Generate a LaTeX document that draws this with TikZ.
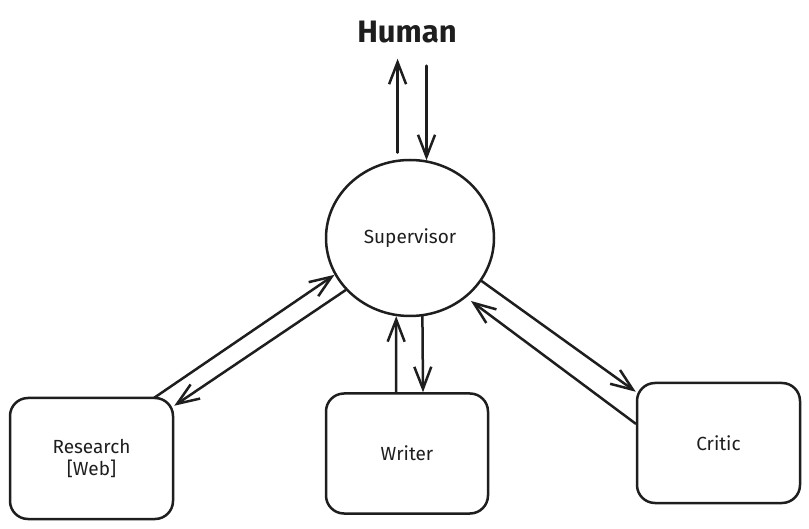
\documentclass[tikz,border=0pt]{standalone}
\usepackage{fontspec}
\setmainfont{Fira Sans}
\usetikzlibrary{arrows.meta,shapes.geometric,calc}
\definecolor{ink}{HTML}{1E1E1E}
\tikzset{
  agent/.style={draw=ink,line width=2.5pt,rounded corners=18pt,minimum width=162pt,minimum height=120pt,align=center,text=ink,font=\fontsize{19}{22}\selectfont},
  hub/.style={ellipse,draw=ink,line width=2.5pt,minimum width=168pt,minimum height=156pt,text=ink,font=\fontsize{19}{22}\selectfont},
  msg/.style={draw=ink,line width=2.5pt,line cap=round,-{Straight Barb[length=22pt,width=17pt]}}
}
\begin{document}
\begin{tikzpicture}[x=1pt,y=-1pt]
\useasboundingbox (0,0) rectangle (809,529);
\node[hub] (sup) at (410,238) {Supervisor};
\node[text=ink,inner sep=0pt,anchor=base,font=\bfseries\fontsize{31}{34}\selectfont] (human) at (407,43) {Human};

\node[agent,minimum width=163pt,minimum height=121pt] (res) at (91.5,458.5) {Research\\{[Web]}};
\node[agent] (wri) at (407,453.5) {Writer};
\node[agent,minimum width=163pt] (cri) at (718.5,443) {Critic};

\draw[msg] ($(sup.99)+(0,-7)$) -- ($(human.south -| sup.99)+(0,15)$);
\draw[msg] ($(human.south -| sup.78)+(0,22)$) -- (sup.78);
\draw[msg] ($(res.north east)+(-20,1)$) -- (sup.206);
\draw[msg] (sup.219) -- ($(res.north east)+(0,9)$);
\draw[msg] ($(wri.north)+(-11,0)$) -- (sup.260);
\draw[msg] (sup.279) -- ($(wri.north)+(16,0)$);
\draw[msg] (sup.329) -- ($(cri.north west)+(0,10)$);
\draw[msg] ($(cri.north west)+(0,42)$) -- ($(sup.314)+(4,4)$);
\end{tikzpicture}
\end{document}
